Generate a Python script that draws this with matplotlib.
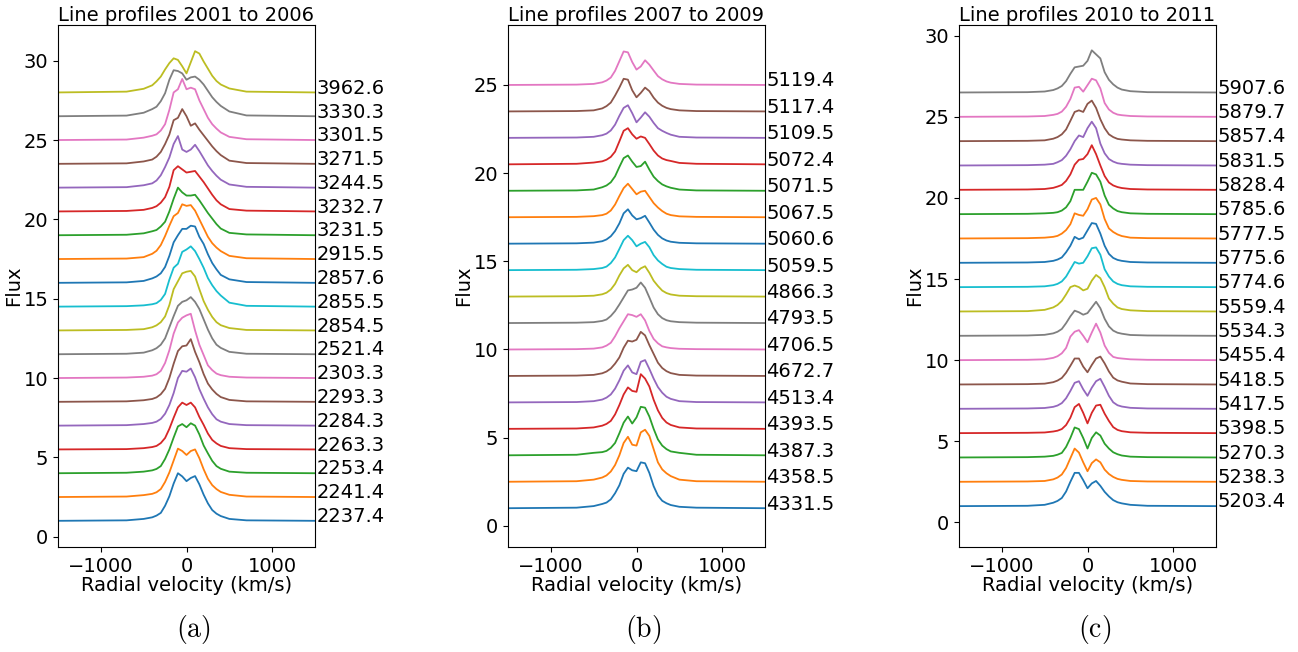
import numpy as np
import matplotlib.pyplot as plt

plt.rcParams['font.size'] = 14
plt.rcParams['mathtext.fontset'] = 'cm'

# velocity grid (km/s) the profile heights are tabulated on
velocity = [-1500, -700, -500, -400, -350, -300, -250, -200, -150, -100, -50, 0,
            50, 100, 150, 200, 250, 300, 350, 400, 500, 700, 1500]

# heights above continuum at the inner knots, listed bottom to top
labels_a = ['2237.4', '2241.4', '2253.4', '2263.3', '2284.3', '2293.3', '2303.3',
            '2521.4', '2854.5', '2855.5', '2857.6', '2915.5', '3231.5', '3232.7',
            '3244.5', '3271.5', '3301.5', '3330.3', '3962.6']
flux_a = [
    [0.03, 0.12, 0.22, 0.33, 0.5, 0.95, 1.55, 2.35, 3.0, 2.8, 2.5, 2.7, 2.82, 2.3, 1.65, 1.1, 0.68, 0.45, 0.3, 0.12, 0.03],
    [0.03, 0.12, 0.2, 0.3, 0.5, 0.95, 1.55, 2.3, 3.05, 2.9, 2.65, 2.9, 3.0, 2.45, 1.75, 1.15, 0.75, 0.5, 0.32, 0.14, 0.03],
    [0.03, 0.1, 0.18, 0.27, 0.45, 0.9, 1.5, 2.25, 2.95, 3.1, 2.9, 3.15, 3.0, 2.45, 1.75, 1.25, 0.78, 0.45, 0.28, 0.1, 0.03],
    [0.02, 0.08, 0.15, 0.22, 0.4, 0.72, 1.3, 2.0, 2.65, 2.95, 2.8, 2.95, 2.65, 2.05, 1.55, 1.0, 0.6, 0.38, 0.22, 0.08, 0.02],
    [0.03, 0.1, 0.17, 0.25, 0.42, 0.75, 1.3, 2.05, 3.0, 3.45, 3.4, 3.6, 3.05, 2.3, 1.7, 1.15, 0.72, 0.4, 0.25, 0.1, 0.03],
    [0.03, 0.1, 0.18, 0.28, 0.48, 0.82, 1.5, 2.4, 3.2, 3.5, 3.55, 3.95, 3.15, 2.5, 1.75, 1.15, 0.78, 0.5, 0.3, 0.12, 0.03],
    [0.03, 0.08, 0.15, 0.24, 0.45, 0.95, 1.75, 2.8, 3.5, 3.8, 3.95, 4.05, 3.0, 2.1, 1.45, 0.8, 0.5, 0.28, 0.18, 0.08, 0.03],
    [0.03, 0.1, 0.25, 0.38, 0.6, 1.0, 1.7, 2.4, 3.05, 3.3, 3.4, 3.6, 3.3, 2.85, 2.2, 1.55, 1.0, 0.6, 0.4, 0.15, 0.03],
    [0.03, 0.08, 0.2, 0.32, 0.52, 0.88, 1.6, 2.6, 3.1, 3.6, 3.7, 3.75, 3.4, 2.6, 1.85, 1.3, 0.85, 0.52, 0.33, 0.15, 0.03],
    [0.03, 0.08, 0.15, 0.22, 0.42, 0.8, 1.7, 2.45, 2.7, 3.45, 3.6, 3.8, 3.5, 3.0, 2.45, 1.8, 1.35, 0.98, 0.7, 0.25, 0.05],
    [0.03, 0.12, 0.28, 0.4, 0.6, 1.0, 1.7, 2.55, 3.0, 3.4, 3.4, 3.6, 3.55, 2.9, 2.45, 1.8, 1.25, 0.85, 0.5, 0.22, 0.05],
    [0.03, 0.12, 0.33, 0.52, 0.88, 1.45, 2.1, 2.7, 2.9, 3.45, 3.35, 3.4, 3.05, 2.5, 1.95, 1.4, 1.0, 0.72, 0.5, 0.2, 0.05],
    [0.03, 0.12, 0.25, 0.33, 0.55, 0.85, 1.5, 2.3, 3.0, 2.7, 2.5, 2.5, 2.55, 2.2, 1.8, 1.4, 1.05, 0.7, 0.42, 0.15, 0.05],
    [0.03, 0.1, 0.22, 0.33, 0.55, 0.9, 1.55, 2.6, 2.85, 2.65, 2.45, 2.5, 2.55, 2.2, 1.85, 1.45, 1.05, 0.7, 0.45, 0.15, 0.05],
    [0.03, 0.15, 0.27, 0.45, 0.78, 1.3, 1.9, 2.75, 3.25, 2.4, 2.25, 2.4, 2.7, 2.3, 1.85, 1.4, 1.05, 0.75, 0.5, 0.2, 0.05],
    [0.03, 0.15, 0.27, 0.45, 0.75, 1.25, 1.85, 2.75, 2.9, 3.45, 3.0, 2.4, 2.55, 2.15, 1.8, 1.45, 1.1, 0.8, 0.55, 0.2, 0.05],
    [0.03, 0.15, 0.27, 0.36, 0.6, 1.0, 1.9, 3.0, 3.2, 3.85, 3.2, 3.3, 3.2, 2.5, 1.95, 1.4, 1.0, 0.72, 0.48, 0.2, 0.05],
    [0.04, 0.22, 0.45, 0.6, 0.95, 1.45, 2.3, 2.9, 2.85, 2.7, 2.3, 2.45, 2.5, 2.3, 2.0, 1.6, 1.2, 0.9, 0.65, 0.3, 0.05],
    [0.05, 0.23, 0.45, 0.7, 1.0, 1.45, 1.85, 2.15, 2.05, 1.65, 1.2, 1.9, 2.6, 2.45, 1.95, 1.5, 1.05, 0.72, 0.5, 0.25, 0.05],
]

labels_b = ['4331.5', '4358.5', '4387.3', '4393.5', '4513.4', '4672.7', '4706.5',
            '4793.5', '4866.3', '5059.5', '5060.6', '5067.5', '5071.5', '5072.4',
            '5109.5', '5117.4', '5119.4']
flux_b = [
    [0.03, 0.12, 0.24, 0.32, 0.5, 0.85, 1.3, 1.95, 2.3, 2.15, 2.1, 2.6, 2.55, 2.0, 1.25, 0.72, 0.42, 0.28, 0.18, 0.08, 0.03],
    [0.03, 0.12, 0.24, 0.36, 0.58, 0.95, 1.5, 2.2, 2.55, 2.1, 2.05, 2.8, 2.95, 2.6, 1.85, 1.1, 0.7, 0.48, 0.32, 0.12, 0.03],
    [0.03, 0.14, 0.18, 0.25, 0.42, 0.7, 1.25, 1.85, 2.2, 1.8, 2.15, 2.75, 2.7, 2.2, 1.5, 0.9, 0.55, 0.35, 0.22, 0.14, 0.03],
    [0.02, 0.08, 0.18, 0.28, 0.45, 0.82, 1.35, 1.95, 2.35, 2.15, 2.1, 3.1, 2.85, 2.4, 1.65, 1.05, 0.62, 0.36, 0.22, 0.08, 0.02],
    [0.02, 0.07, 0.16, 0.27, 0.45, 0.78, 1.25, 1.8, 2.1, 1.7, 1.6, 2.3, 2.4, 1.9, 1.35, 0.87, 0.55, 0.32, 0.2, 0.07, 0.02],
    [0.02, 0.06, 0.15, 0.25, 0.42, 0.7, 1.05, 1.6, 2.0, 1.95, 2.05, 2.5, 2.3, 1.75, 1.25, 0.75, 0.45, 0.27, 0.16, 0.06, 0.02],
    [0.02, 0.05, 0.12, 0.22, 0.38, 0.75, 1.2, 1.6, 2.0, 1.95, 1.85, 2.0, 1.65, 1.05, 0.6, 0.35, 0.18, 0.12, 0.08, 0.04, 0.02],
    [0.02, 0.05, 0.12, 0.2, 0.4, 0.68, 1.05, 1.45, 1.85, 1.9, 2.0, 2.3, 2.0, 1.45, 0.88, 0.5, 0.28, 0.16, 0.1, 0.05, 0.02],
    [0.02, 0.05, 0.13, 0.22, 0.4, 0.72, 1.2, 1.6, 1.8, 1.5, 1.38, 1.6, 1.72, 1.35, 0.9, 0.6, 0.34, 0.2, 0.12, 0.05, 0.02],
    [0.02, 0.06, 0.12, 0.2, 0.4, 0.72, 1.2, 1.7, 1.95, 1.7, 1.35, 1.5, 1.6, 1.3, 0.85, 0.55, 0.35, 0.19, 0.12, 0.06, 0.02],
    [0.02, 0.06, 0.14, 0.24, 0.42, 0.72, 1.15, 1.72, 1.95, 1.6, 1.38, 1.45, 1.58, 1.2, 0.8, 0.5, 0.3, 0.18, 0.11, 0.05, 0.02],
    [0.02, 0.06, 0.12, 0.2, 0.38, 0.72, 1.2, 1.65, 1.9, 1.6, 1.3, 1.45, 1.5, 1.15, 0.8, 0.55, 0.35, 0.2, 0.12, 0.05, 0.02],
    [0.02, 0.07, 0.2, 0.3, 0.48, 0.82, 1.35, 1.85, 2.0, 1.65, 1.35, 1.4, 1.65, 1.2, 0.8, 0.55, 0.36, 0.25, 0.17, 0.07, 0.02],
    [0.03, 0.1, 0.17, 0.26, 0.42, 0.72, 1.3, 1.9, 2.05, 1.7, 1.45, 1.58, 1.5, 1.15, 0.78, 0.5, 0.33, 0.24, 0.19, 0.08, 0.03],
    [0.02, 0.06, 0.15, 0.24, 0.42, 0.75, 1.25, 1.7, 1.85, 1.4, 0.88, 1.15, 1.45, 1.2, 0.85, 0.55, 0.4, 0.28, 0.18, 0.06, 0.02],
    [0.02, 0.06, 0.17, 0.3, 0.5, 0.9, 1.35, 1.85, 1.8, 1.2, 0.8, 1.05, 1.35, 1.15, 0.78, 0.5, 0.32, 0.2, 0.13, 0.06, 0.02],
    [0.02, 0.06, 0.15, 0.25, 0.42, 0.8, 1.35, 1.9, 1.85, 1.3, 0.87, 1.05, 1.4, 1.15, 0.82, 0.5, 0.32, 0.2, 0.13, 0.06, 0.02],
]

labels_c = ['5203.4', '5238.3', '5270.3', '5398.5', '5417.5', '5418.5', '5455.4',
            '5534.3', '5559.4', '5774.6', '5775.6', '5777.5', '5785.6', '5828.4',
            '5831.5', '5857.4', '5879.7', '5907.6']
flux_c = [
    [0.02, 0.08, 0.21, 0.32, 0.5, 0.9, 1.5, 2.05, 2.05, 1.6, 1.1, 1.4, 1.55, 1.25, 0.88, 0.6, 0.37, 0.24, 0.17, 0.08, 0.02],
    [0.02, 0.05, 0.15, 0.26, 0.45, 0.85, 1.45, 2.05, 1.8, 1.2, 0.65, 1.15, 1.38, 1.2, 0.75, 0.48, 0.3, 0.18, 0.12, 0.05, 0.02],
    [0.02, 0.05, 0.1, 0.17, 0.28, 0.65, 1.2, 1.85, 1.75, 1.2, 0.55, 1.2, 1.55, 1.35, 0.85, 0.55, 0.32, 0.2, 0.12, 0.05, 0.02],
    [0.02, 0.04, 0.1, 0.15, 0.25, 0.5, 0.95, 1.6, 1.8, 1.25, 0.6, 1.25, 1.7, 1.75, 1.2, 0.75, 0.37, 0.2, 0.12, 0.05, 0.02],
    [0.02, 0.05, 0.12, 0.2, 0.35, 0.65, 1.1, 1.6, 1.7, 1.2, 0.8, 1.3, 1.7, 1.85, 1.35, 0.8, 0.4, 0.22, 0.14, 0.06, 0.02],
    [0.02, 0.05, 0.14, 0.24, 0.4, 0.72, 1.15, 1.6, 1.6, 1.1, 0.75, 1.2, 1.6, 1.72, 1.3, 0.8, 0.42, 0.25, 0.17, 0.06, 0.02],
    [0.02, 0.05, 0.14, 0.24, 0.42, 0.75, 1.45, 1.75, 1.85, 1.5, 1.1, 1.7, 2.25, 1.7, 0.9, 0.45, 0.2, 0.13, 0.1, 0.05, 0.02],
    [0.02, 0.06, 0.15, 0.25, 0.42, 0.78, 1.2, 1.55, 1.45, 1.3, 1.4, 1.75, 2.1, 1.7, 1.05, 0.58, 0.32, 0.19, 0.13, 0.05, 0.02],
    [0.02, 0.1, 0.25, 0.4, 0.65, 1.05, 1.5, 1.6, 1.5, 1.3, 1.4, 1.9, 2.25, 2.05, 1.5, 0.8, 0.48, 0.25, 0.15, 0.07, 0.02],
    [0.02, 0.05, 0.12, 0.2, 0.35, 0.65, 1.1, 1.55, 1.45, 1.5, 1.9, 2.4, 2.45, 2.0, 1.1, 0.65, 0.35, 0.2, 0.12, 0.05, 0.02],
    [0.02, 0.05, 0.12, 0.2, 0.33, 0.65, 1.05, 1.6, 1.45, 1.55, 2.0, 2.45, 2.4, 1.8, 1.05, 0.55, 0.3, 0.18, 0.12, 0.05, 0.02],
    [0.02, 0.05, 0.1, 0.16, 0.3, 0.52, 0.88, 1.55, 1.45, 1.4, 1.8, 2.4, 2.5, 2.1, 1.2, 0.62, 0.4, 0.25, 0.15, 0.05, 0.02],
    [0.02, 0.05, 0.08, 0.12, 0.22, 0.42, 0.8, 1.5, 1.5, 1.5, 2.0, 2.55, 2.45, 2.0, 1.15, 0.58, 0.35, 0.19, 0.12, 0.05, 0.02],
    [0.02, 0.05, 0.12, 0.2, 0.3, 0.55, 0.95, 1.55, 1.85, 1.9, 2.2, 2.75, 2.2, 1.5, 0.85, 0.45, 0.27, 0.17, 0.11, 0.05, 0.02],
    [0.02, 0.05, 0.1, 0.2, 0.33, 0.6, 1.0, 1.5, 1.85, 1.75, 2.3, 2.7, 2.3, 1.35, 0.75, 0.4, 0.24, 0.14, 0.1, 0.05, 0.02],
    [0.02, 0.05, 0.15, 0.25, 0.42, 0.72, 1.25, 1.8, 1.9, 1.8, 2.3, 2.5, 2.05, 1.35, 0.8, 0.42, 0.25, 0.14, 0.1, 0.05, 0.02],
    [0.02, 0.05, 0.12, 0.18, 0.32, 0.62, 1.1, 1.8, 1.85, 1.55, 1.95, 2.35, 2.25, 1.75, 0.85, 0.45, 0.25, 0.14, 0.1, 0.05, 0.02],
    [0.02, 0.06, 0.15, 0.25, 0.4, 0.7, 1.15, 1.55, 1.6, 1.65, 1.95, 2.6, 2.35, 2.1, 1.25, 0.78, 0.5, 0.3, 0.18, 0.08, 0.02],
]

titles = ['Line profiles 2001 to 2006', 'Line profiles 2007 to 2009',
          'Line profiles 2010 to 2011']
captions = ['(a)', '(b)', '(c)']

base = 1.0   # continuum of the lowest spectrum
step = 1.5   # vertical shift between spectra

fig = plt.figure(figsize=(12.98, 6.52), dpi=100)
lefts = [58, 508, 959]
ylims = [(-0.65, 32.25), (-1.2, 28.4), (-1.52, 30.66)]
yticks = [range(0, 31, 5), range(0, 26, 5), range(0, 31, 5)]

for k, (labels, flux) in enumerate([(labels_a, flux_a), (labels_b, flux_b),
                                    (labels_c, flux_c)]):
    ax = fig.add_axes([lefts[k] / 1298, 105 / 652, 257 / 1298, 522 / 652])
    for i, (lab, prof) in enumerate(zip(labels, flux)):
        off = base + step * i
        y = off + np.array([0.0] + prof + [0.0])
        ax.plot(velocity, y, lw=1.3)
        ax.text(1518, off - 0.08, lab, va='baseline', ha='left')
    ax.set_xlim(-1500, 1500)
    ax.set_ylim(*ylims[k])
    ax.set_xticks([-1000, 0, 1000])
    ax.set_yticks(list(yticks[k]))
    ax.set_title(titles[k], fontsize=14, pad=0)
    ax.set_xlabel('Radial velocity (km/s)', labelpad=0)
    ax.set_ylabel('Flux', labelpad=0)
    fig.text((lefts[k] + 128.5 + 7) / 1298, 22 / 652,
             r'$\mathrm{' + captions[k] + '}$', ha='center', va='center',
             fontsize=20)

fig.savefig('out.png', dpi=100)
